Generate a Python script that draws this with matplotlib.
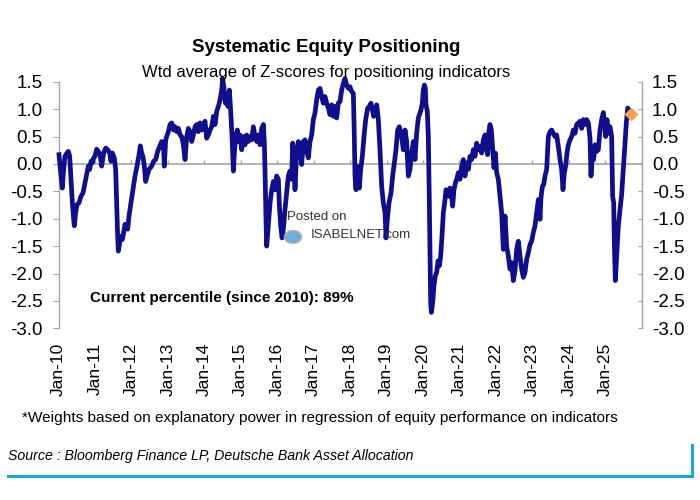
import matplotlib
matplotlib.use("Agg")
import matplotlib.pyplot as plt
from matplotlib.lines import Line2D
from matplotlib.ticker import FixedLocator, FuncFormatter

plt.rcParams['font.family'] = ['Liberation Sans', 'DejaVu Sans']

# decimal year / z-score readings
t = [2010.014, 2010.069, 2010.105, 2010.142, 2010.178, 2010.233, 2010.270, 2010.306, 2010.343, 2010.380,
     2010.416, 2010.434, 2010.471, 2010.508, 2010.562, 2010.617, 2010.672, 2010.727, 2010.782, 2010.818,
     2010.855, 2010.892, 2010.928, 2010.965, 2011.001, 2011.047, 2011.093, 2011.139, 2011.184, 2011.239,
     2011.294, 2011.349, 2011.404, 2011.440, 2011.477, 2011.532, 2011.568, 2011.596, 2011.623, 2011.642,
     2011.678, 2011.715, 2011.751, 2011.788, 2011.824, 2011.861, 2011.898, 2011.934, 2011.989, 2012.044,
     2012.099, 2012.154, 2012.209, 2012.245, 2012.282, 2012.318, 2012.355, 2012.391, 2012.428, 2012.483,
     2012.556, 2012.611, 2012.666, 2012.721, 2012.776, 2012.830, 2012.885, 2012.904, 2012.940, 2013.013,
     2013.060, 2013.106, 2013.151, 2013.197, 2013.243, 2013.289, 2013.334, 2013.380, 2013.426, 2013.472,
     2013.517, 2013.563, 2013.609, 2013.654, 2013.700, 2013.746, 2013.792, 2013.837, 2013.883, 2013.929,
     2013.975, 2014.020, 2014.066, 2014.112, 2014.157, 2014.203, 2014.249, 2014.295, 2014.340, 2014.386,
     2014.432, 2014.477, 2014.505, 2014.541, 2014.578, 2014.615, 2014.651, 2014.688, 2014.724, 2014.761,
     2014.798, 2014.825, 2014.862, 2014.907, 2014.944, 2014.980, 2015.026, 2015.072, 2015.118, 2015.163,
     2015.209, 2015.255, 2015.301, 2015.346, 2015.392, 2015.438, 2015.483, 2015.529, 2015.575, 2015.621,
     2015.648, 2015.675, 2015.694, 2015.712, 2015.740, 2015.776, 2015.804, 2015.849, 2015.895, 2015.941,
     2015.986, 2016.032, 2016.060, 2016.096, 2016.133, 2016.169,
     2016.214, 2016.260, 2016.305, 2016.351, 2016.397, 2016.424, 2016.461, 2016.488, 2016.534, 2016.580,
     2016.626, 2016.671, 2016.717, 2016.763, 2016.808, 2016.854, 2016.900, 2016.946, 2016.991, 2017.037,
     2017.083, 2017.129, 2017.174, 2017.220, 2017.266, 2017.311, 2017.357, 2017.403, 2017.449, 2017.494,
     2017.540, 2017.586, 2017.631, 2017.677, 2017.723, 2017.769, 2017.814, 2017.860, 2017.906, 2017.952,
     2017.997, 2018.043, 2018.089, 2018.116, 2018.134, 2018.162, 2018.189, 2018.226, 2018.253, 2018.290,
     2018.336, 2018.381, 2018.427, 2018.482, 2018.528, 2018.573, 2018.610, 2018.647, 2018.683, 2018.729,
     2018.775, 2018.820, 2018.866, 2018.912, 2018.958, 2018.985, 2019.022, 2019.067, 2019.122, 2019.168,
     2019.214, 2019.259, 2019.305, 2019.351,
     2019.415, 2019.460, 2019.506, 2019.552, 2019.598, 2019.643, 2019.689, 2019.735, 2019.781, 2019.826,
     2019.872, 2019.918, 2019.945, 2019.982, 2020.009, 2020.037, 2020.064, 2020.082, 2020.119, 2020.146,
     2020.174, 2020.192, 2020.210, 2020.229, 2020.265, 2020.302, 2020.338, 2020.375, 2020.412, 2020.448,
     2020.485, 2020.521, 2020.558, 2020.594, 2020.631, 2020.668, 2020.704, 2020.741, 2020.777, 2020.814,
     2020.850, 2020.887, 2020.924, 2020.969, 2021.015, 2021.061, 2021.107, 2021.152, 2021.198, 2021.244,
     2021.289, 2021.335, 2021.381, 2021.427, 2021.472, 2021.518, 2021.564, 2021.609, 2021.655, 2021.701,
     2021.747, 2021.774, 2021.801, 2021.838, 2021.875, 2021.911, 2021.948, 2021.984, 2022.021, 2022.067,
     2022.113, 2022.158, 2022.204, 2022.250, 2022.295, 2022.341, 2022.387, 2022.433, 2022.478,
     2022.524, 2022.570, 2022.615, 2022.661, 2022.707, 2022.753, 2022.798, 2022.844, 2022.890, 2022.936,
     2022.981, 2023.027, 2023.073, 2023.118, 2023.164, 2023.210, 2023.237, 2023.274, 2023.310, 2023.347,
     2023.393, 2023.439, 2023.484, 2023.530, 2023.576, 2023.621, 2023.667, 2023.713, 2023.759, 2023.804,
     2023.841, 2023.877, 2023.914, 2023.951, 2023.987, 2024.033, 2024.079, 2024.124, 2024.170, 2024.216,
     2024.262, 2024.307, 2024.353, 2024.399, 2024.444, 2024.490, 2024.536, 2024.582, 2024.609, 2024.646,
     2024.682, 2024.719, 2024.765, 2024.810, 2024.856, 2024.902, 2024.947, 2024.975, 2025.011, 2025.048,
     2025.085, 2025.130, 2025.176, 2025.203, 2025.231, 2025.249, 2025.277, 2025.313, 2025.359, 2025.405,
     2025.450, 2025.496, 2025.542, 2025.578, 2025.615, 2025.652]

z = [0.17, -0.22, -0.44, -0.10, 0.14, 0.20, 0.23, 0.14, -0.28, -0.71,
     -1.01, -1.13, -0.89, -0.74, -0.71, -0.59, -0.53, -0.35, -0.16, -0.04,
     -0.10, 0.05, 0.02, 0.11, 0.14, 0.27, 0.23, 0.17, -0.04, 0.20,
     0.29, 0.26, 0.20, 0.05, 0.20, 0.11, -0.10, -0.71, -1.32, -1.59,
     -1.44, -1.32, -1.38, -1.25, -1.10, -1.13, -1.19, -0.95, -0.71, -0.47,
     -0.22, -0.04, 0.17, 0.33, 0.20, 0.13, -0.04, -0.32, -0.22, -0.10,
     -0.04, 0.05, 0.08, 0.23, 0.32, 0.41, 0.26, -0.04, 0.44, 0.59,
     0.72, 0.75, 0.62, 0.68, 0.59, 0.65, 0.53, 0.50, 0.35, 0.08,
     0.50, 0.65, 0.59, 0.41, 0.53, 0.68, 0.72, 0.59, 0.75, 0.62,
     0.72, 0.78, 0.47, 0.53, 0.62, 0.68, 0.87, 0.72, 0.96, 1.05,
     1.17, 1.35, 1.56, 1.38, 1.11, 1.26, 1.05, 1.35, 0.96, 0.50,
     -0.13, 0.20, 0.50, 0.62, 0.41, 0.53, 0.26, 0.50, 0.35, 0.53,
     0.41, 0.50, 0.44, 0.68, 0.50, 0.41, 0.53, 0.35, 0.65, 0.72,
     0.38, -0.41, -1.07, -1.50, -1.25, -0.95, -0.71, -0.47, -0.32, -0.47,
     -0.22, -0.28, -0.77, -1.13, -1.35, -1.19,
     -0.83, -0.53, -0.22, -0.13, -0.28, 0.38, 0.14, -0.47, 0.20, 0.41,
     0.35, -0.01, 0.41, 0.44, 0.23, 0.11, 0.41, 0.53, 0.81, 0.93,
     1.17, 1.35, 1.38, 1.23, 1.11, 1.23, 1.11, 1.02, 0.90, 1.08,
     0.87, 1.05, 0.84, 1.11, 1.14, 1.35, 1.47, 1.56, 1.44, 1.38,
     1.41, 1.32, 1.29, 0.50, -0.22, -0.47, -0.04, -0.22, -0.44, -0.10,
     0.14, 0.50, 0.81, 1.02, 1.05, 1.11, 0.99, 0.87, 0.99, 1.08,
     0.81, 0.26, -0.41, -0.71, -0.89, -1.35, -1.01, -0.71, -0.53, -0.22,
     0.02, 0.26, 0.62, 0.68,
     0.50, 0.26, 0.62, 0.41, -0.22, -0.10, 0.20, 0.41, 0.08, 0.56,
     0.84, 0.93, 0.99, 1.11, 1.35, 1.44, 1.38, 1.08, 0.96, 0.50,
     -0.71, -1.68, -2.53, -2.71, -2.53, -2.22, -2.04, -1.98, -1.77, -1.86,
     -1.68, -1.32, -0.89, -0.71, -0.47, -0.53, -0.59, -0.44, -0.53, -0.77,
     -0.47, -0.35, -0.28, -0.16, -0.28, -0.04, 0.08, -0.22, 0.02, -0.10,
     0.14, 0.08, 0.26, 0.14, 0.38, 0.26, 0.32, 0.20, 0.44, 0.53,
     0.26, 0.17, 0.56, 0.72, 0.62, 0.29, -0.07, 0.20, -0.16, -0.28,
     -0.59, -0.89, -1.56, -0.95, -1.50, -1.68, -1.92, -1.80, -2.13,
     -1.95, -1.56, -1.41, -1.68, -1.92, -2.07, -1.98, -1.74, -1.62, -1.47,
     -1.41, -1.25, -1.13, -0.89, -0.65, -1.01, -0.62, -0.41, -0.38, -0.22,
     -0.10, 0.50, 0.59, 0.62, 0.56, 0.50, 0.53, 0.32, 0.08, -0.10,
     -0.47, -0.16, -0.04, 0.20, 0.35, 0.44, 0.50, 0.62, 0.56, 0.72,
     0.75, 0.78, 0.65, 0.81, 0.72, 0.81, 0.75, 0.47, -0.22, 0.20,
     0.08, 0.35, 0.23, 0.26, 0.62, 0.81, 0.94, 0.75, 0.50, 0.81,
     0.56, 0.68, 0.50, -0.59, -0.71, -1.44, -2.13, -1.68, -1.13, -0.83,
     -0.56, -0.10, 0.38, 0.75, 1.02, 0.99]

current_t = [2025.70]
current_z = [0.92]

year_ticks = list(range(2010, 2026))
year_labels = ['Jan-%02d' % (y % 100) for y in year_ticks]
y_ticks = [1.5, 1.0, 0.5, 0.0, -0.5, -1.0, -1.5, -2.0, -2.5, -3.0]

title = 'Systematic Equity Positioning'
subtitle = 'Wtd average of Z-scores for positioning indicators'
note = 'Current percentile (since 2010): 89%'
footnote = '*Weights based on explanatory power in regression of equity performance on indicators'
source = 'Source : Bloomberg Finance LP, Deutsche Bank Asset Allocation'

W, H = 700, 500
fig = plt.figure(figsize=(7, 5), dpi=100)
fig.patch.set_facecolor('white')
ax = fig.add_axes([58.5 / W, 1 - 328.3 / H, (641.7 - 58.5) / W, (328.3 - 81.8) / H])

grey = '#a6a6a6'
navy = '#0f0f8e'

ax.axhline(0, color=grey, lw=1.2, zorder=1)
ax.plot(t, z, color=navy, lw=3.4, solid_joinstyle='round', clip_on=False, zorder=3)
ax.plot(current_t, current_z, marker='D', color='#f7a24b', markersize=6.5, ls='none', zorder=4, clip_on=False)

ax.set_xlim(2010, 2026)
ax.set_ylim(-3.0, 1.5)

for s in ['top', 'bottom']:
    ax.spines[s].set_visible(False)
for s in ['left', 'right']:
    ax.spines[s].set_color(grey)
    ax.spines[s].set_linewidth(1.0)

fmt = FuncFormatter(lambda v, p: '%.1f' % v)
ax.yaxis.set_major_locator(FixedLocator(y_ticks))
ax.yaxis.set_major_formatter(fmt)
ax.tick_params(axis='y', which='both', direction='out', length=4, color=grey,
               labelsize=13.5, pad=7.5, left=True, right=False)

ax.set_xticks(year_ticks)
ax.set_xticklabels(year_labels, rotation=90, fontsize=12.5)
ax.tick_params(axis='x', length=0, pad=10.5)

ax2 = ax.twinx()
ax2.set_ylim(ax.get_ylim())
ax2.yaxis.set_major_locator(FixedLocator(y_ticks))
ax2.yaxis.set_major_formatter(fmt)
ax2.tick_params(axis='y', direction='in', length=3, color=grey, labelsize=13.5, pad=7.5)
for s in ['top', 'bottom', 'left']:
    ax2.spines[s].set_visible(False)
ax2.spines['right'].set_color(grey)

# year ticks on the zero line
sec = ax.secondary_xaxis(3.0 / 4.5)
sec.set_xticks(year_ticks)
sec.set_xticklabels([])
sec.tick_params(axis='x', direction='out', length=3, color=grey, width=1.0)
for sp in sec.spines.values():
    sp.set_visible(False)

fig.text(326 / W, 1 - 48 / H, title, ha='center', va='center', fontsize=13.5, fontweight='bold')
fig.text(326.5 / W, 1 - 73 / H, subtitle, ha='center', va='center', fontsize=12)
fig.text(90 / W, 1 - 298 / H, note, ha='left', va='center', fontsize=11, fontweight='bold')

# watermark
fig.text(287 / W, 1 - 217 / H, 'Posted on', ha='left', va='center', fontsize=9.5, color='#333333')
fig.text(311 / W, 1 - 235 / H, 'ISABELNET.com', ha='left', va='center', fontsize=9.5, color='#333333')
fig.add_artist(plt.Circle((293 / W, 1 - 237 / H), 8 / W, transform=fig.transFigure,
                          facecolor='#4aa3d8', edgecolor='#9aa7b3', lw=2, alpha=0.85))

fig.text(22 / W, 1 - 418 / H, footnote, ha='left', va='center', fontsize=11.1)
fig.text(8 / W, 1 - 456 / H, source, ha='left', va='center', fontsize=10.2, style='italic')

blue = '#1aa7e0'
fig.add_artist(Line2D([8 / W, 692 / W], [1 - 476 / H, 1 - 476 / H], transform=fig.transFigure,
                      color=blue, lw=2.2))
fig.add_artist(Line2D([692 / W, 692 / W], [1 - 476 / H, 1 - 445 / H], transform=fig.transFigure,
                      color=blue, lw=2.2))

fig.savefig('out.png', dpi=100, facecolor='white')
